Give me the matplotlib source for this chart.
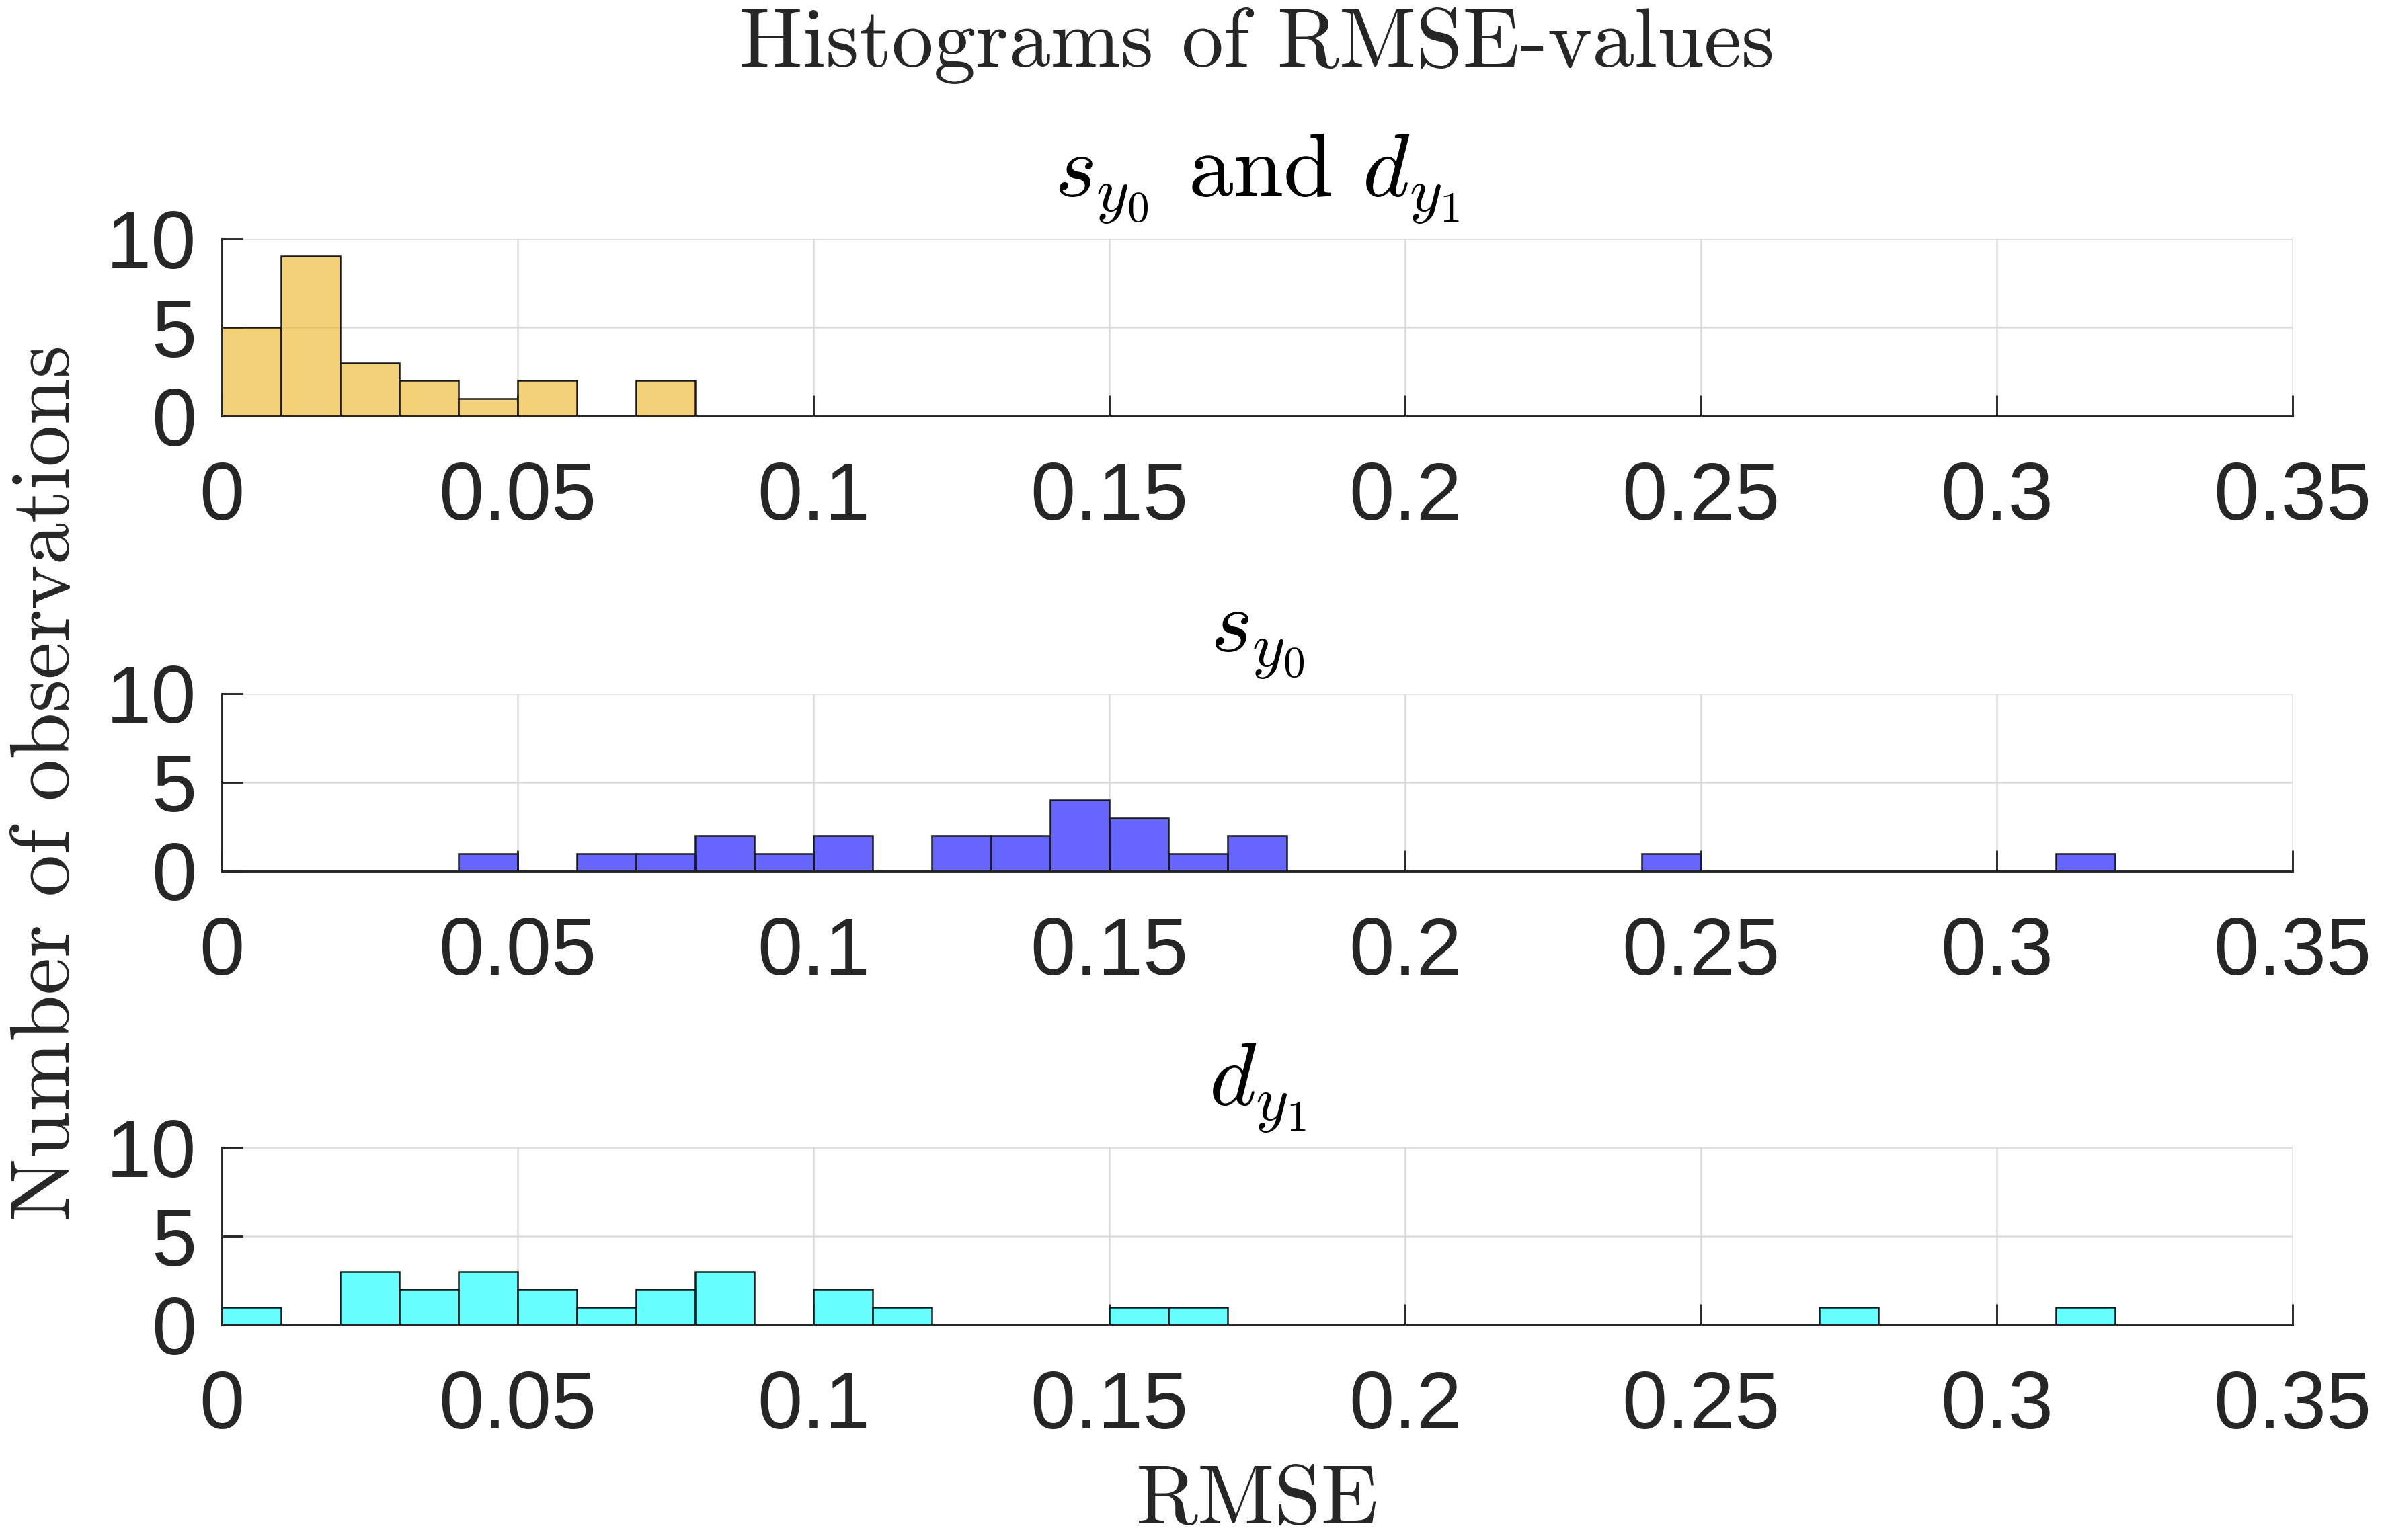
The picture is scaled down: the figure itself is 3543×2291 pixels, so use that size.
import numpy as np
import matplotlib
matplotlib.use("Agg")
import matplotlib.pyplot as plt

# ---- data ----
bin_width = 0.01
both_start = 0.00
both_counts = [5, 9, 3, 2, 1, 2, 0, 2]
s_start = 0.04
s_counts = [1, 0, 1, 1, 2, 1, 2, 0, 2, 2, 4, 3, 1, 2,
            0, 0, 0, 0, 0, 0, 1, 0, 0, 0, 0, 0, 0, 1]
d_start = 0.00
d_counts = [1, 0, 3, 2, 3, 2, 1, 2, 3, 0, 2, 1, 0, 0, 0, 1, 1,
            0, 0, 0, 0, 0, 0, 0, 0, 0, 0, 1, 0, 0, 0, 1]
titles = [r'$s_{y_0}$ and $d_{y_1}$', r'$s_{y_0}$', r'$d_{y_1}$']
xticks = [0, 0.05, 0.1, 0.15, 0.2, 0.25, 0.3, 0.35]
xticklabels = ['0', '0.05', '0.1', '0.15', '0.2', '0.25', '0.3', '0.35']
yticks = [0, 5, 10]

colors = [(0.929, 0.694, 0.125, 0.6), (0.0, 0.0, 1.0, 0.6), (0.0, 1.0, 1.0, 0.6)]

plt.rcParams['mathtext.fontset'] = 'cm'
plt.rcParams['axes.unicode_minus'] = False

W, H = 3543, 2291
dpi = 300
fig = plt.figure(figsize=(W / dpi, H / dpi), dpi=dpi)

axc = '#262626'
left = 330 / W
width = (3410 - 330) / W
ax_h = 264 / H
bottoms = [1 - 619 / H, 1 - 1296 / H, 1 - 1971 / H]

series = [(both_start, both_counts), (s_start, s_counts), (d_start, d_counts)]

for i, (start, counts) in enumerate(series):
    ax = fig.add_axes([left, bottoms[i], width, ax_h])
    lefts = start + np.arange(len(counts)) * bin_width
    ax.bar(lefts, counts, width=bin_width, align='edge',
           facecolor=colors[i], edgecolor='#1a1a1a', linewidth=0.6, zorder=2)
    ax.set_xlim(0, 0.35)
    ax.set_ylim(0, 10)
    ax.set_xticks(xticks)
    ax.set_xticklabels(xticklabels)
    ax.set_yticks(yticks)
    ax.grid(True, color='#dcdcdc', linewidth=0.6, zorder=0)
    ax.set_axisbelow(True)
    for sp in ['top', 'right']:
        ax.spines[sp].set_visible(False)
    for sp in ['left', 'bottom']:
        ax.spines[sp].set_color(axc)
        ax.spines[sp].set_linewidth(0.7)
    ax.tick_params(direction='in', length=7.5, width=0.7, color=axc,
                   labelcolor=axc, labelsize=29)
    ax.tick_params(axis='x', pad=16)
    ax.tick_params(axis='y', pad=9)
    for lab in ax.get_xticklabels() + ax.get_yticklabels():
        lab.set_fontfamily('Liberation Sans')
    ax.set_title(titles[i], fontsize=32, family='cmr10', pad=15, color='black')

cx = left + width / 2
fig.text(cx, 1 - 68 / H, 'Histograms of RMSE-values', family='cmr10',
         fontsize=30, ha='center', va='center', color=axc)
fig.text(cx, 1 - 2235 / H, 'RMSE', family='cmr10', fontsize=30,
         ha='center', va='center', color=axc)
fig.text(72 / W, 1 - 1164 / H, 'Number of observations', family='cmr10',
         fontsize=30, ha='center', va='center', rotation=90, color=axc)

fig.savefig('out.png', dpi=dpi)
